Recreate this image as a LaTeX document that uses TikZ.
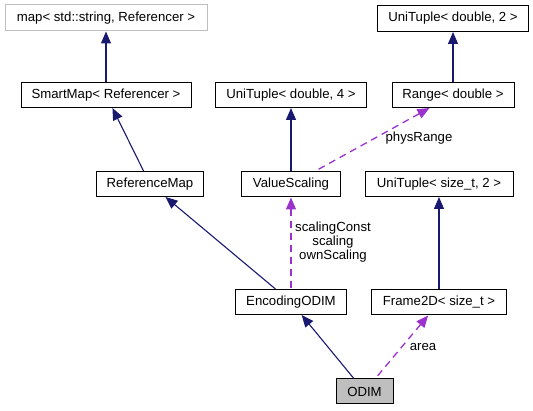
\documentclass[tikz,border=0pt]{standalone}
\usepackage{fontspec}
\setmainfont{Liberation Sans}
\usetikzlibrary{arrows.meta}
\definecolor{edgeblue}{HTML}{191970}
\definecolor{usepurple}{HTML}{9A32CD}
\definecolor{boxgray}{HTML}{BFBFBF}

\begin{document}
\begin{tikzpicture}[x=1pt, y=-1pt,
      every node/.style={font=\fontsize{13.2}{14}\selectfont},
      classbox/.style={draw, line width=1pt, minimum height=25pt, inner sep=0pt},
      inherit/.style={<-, draw=edgeblue, line width=1.1pt},
      usage/.style={<-, draw=usepurple, line width=1.3pt, dash pattern=on 7pt off 5pt},
      >={Triangle[length=12pt, width=10pt]},
    ]
    \useasboundingbox (0,0) rectangle (533,411);

    % classes
    \node[classbox, draw=boxgray, minimum width=202pt, minimum height=26pt] (map) at (106,18) {map< std::string, Referencer >};
    \node[classbox, minimum width=170pt] (smartmap) at (106,95) {SmartMap< Referencer >};
    \node[classbox, minimum width=107pt] (refmap) at (150,184) {ReferenceMap};
    \node[classbox, minimum width=151pt] (tuple4) at (291,95) {UniTuple< double, 4 >};
    \node[classbox, minimum width=99pt] (scaling) at (291,184.5) {ValueScaling};
    \node[classbox, minimum width=151pt, minimum height=26pt] (tuple2) at (453,18.5) {UniTuple< double, 2 >};
    \node[classbox, minimum width=122pt] (range) at (453,95) {Range< double >};
    \node[classbox, minimum width=148pt] (sizetuple) at (439,184) {UniTuple< size\_t, 2 >};
    \node[classbox, minimum width=111pt] (encoding) at (291,302) {EncodingODIM};
    \node[classbox, minimum width=135pt] (frame) at (439,302.5) {Frame2D< size\_t >};
    \node[classbox, fill=boxgray, minimum width=57pt] (odim) at (364.5,391.5) {ODIM};

    % inheritance
    \draw[inherit] (map) -- (smartmap);
    \draw[inherit] (smartmap) -- (refmap);
    \draw[inherit] (refmap) -- (encoding);
    \draw[inherit] (tuple4) -- (scaling);
    \draw[inherit] (tuple2) -- (range);
    \draw[inherit] (sizetuple) -- (frame);
    \draw[inherit] (encoding) -- (odim);

    % members
    \draw[usage] (range) -- (scaling);
    \draw[usage] (scaling) -- (encoding);
    \draw[usage] (frame) -- (odim);

    \node (physlbl) at (419,138) {physRange};
    \node[align=center] (scalinglbl) at (333,242) {scalingConst\\scaling\\ownScaling};
    \node (arealbl) at (423,347) {area};
  \end{tikzpicture}
\end{document}
